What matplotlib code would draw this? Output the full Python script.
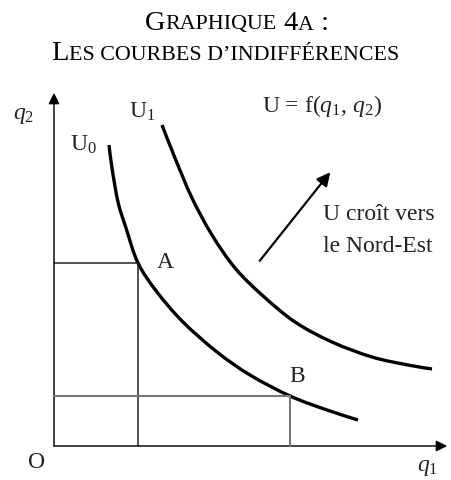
import matplotlib
matplotlib.use("Agg")
import matplotlib.pyplot as plt
from matplotlib.offsetbox import TextArea, HPacker, AnnotationBbox
from matplotlib.path import Path
from matplotlib.patches import PathPatch

plt.rcParams['font.family'] = ['Liberation Serif', 'DejaVu Serif']
plt.rcParams['mathtext.fontset'] = 'custom'
plt.rcParams['mathtext.rm'] = 'Liberation Serif'
plt.rcParams['mathtext.it'] = 'Liberation Serif:italic'

# ---- data ----
U0_q1 = [5.5, 5.8, 6.4, 7.2, 8.4, 10.3, 12.9, 16.3, 19.6, 23.6, 27.3, 30.4]
U0_q2 = [30.1, 27.8, 24.4, 21.8, 18.3, 15.4, 12.4, 9.4, 7.1, 5.0, 3.6, 2.6]
U1_q1 = [10.8, 12.1, 13.8, 15.8, 18.1, 20.8, 24.1, 27.8, 31.8, 35.4, 37.8]
U1_q2 = [32.1, 28.8, 24.8, 21.1, 17.8, 15.1, 12.4, 10.4, 8.9, 8.1, 7.7]
point_A = (8.4, 18.3)
point_B = (23.6, 5.0)
axis_end = (39.6, 35.6)
arrow_tail = (20.4, 18.3)
arrow_head = (27.8, 27.6)

fig = plt.figure(figsize=(4.51, 4.80), dpi=100)
ax = fig.add_axes([0, 0, 1, 1])
ax.set_xlim(-5.4, 39.7)
ax.set_ylim(-3.4, 44.6)
ax.axis('off')


def smooth_path(xs, ys):
    """Cubic Bezier path passing through every read point (Catmull-Rom tangents)."""
    pts = list(zip(xs, ys))
    n = len(pts)
    verts = [pts[0]]
    codes = [Path.MOVETO]
    for i in range(n - 1):
        p0 = pts[i - 1] if i > 0 else pts[i]
        p1 = pts[i]
        p2 = pts[i + 1]
        p3 = pts[i + 2] if i + 2 < n else pts[i + 1]
        c1 = (p1[0] + (p2[0] - p0[0]) / 6, p1[1] + (p2[1] - p0[1]) / 6)
        c2 = (p2[0] - (p3[0] - p1[0]) / 6, p2[1] - (p3[1] - p1[1]) / 6)
        verts += [c1, c2, p2]
        codes += [Path.CURVE4] * 3
    return Path(verts, codes)


# axes with arrows
ax.plot([0, axis_end[0] - 0.8], [0, 0], color='#333333', lw=1.3)
ax.plot([0, 0], [0, axis_end[1] - 0.8], color='#333333', lw=1.3)
ax.annotate('', xy=(axis_end[0], 0), xytext=(axis_end[0] - 1.5, 0),
            arrowprops=dict(arrowstyle='-|>', color='black', lw=1.2, mutation_scale=16))
ax.annotate('', xy=(0, axis_end[1]), xytext=(0, axis_end[1] - 1.5),
            arrowprops=dict(arrowstyle='-|>', color='black', lw=1.2, mutation_scale=16))

# guide lines for A and B
ax.plot([0, point_A[0], point_A[0]], [point_A[1], point_A[1], 0], color='#222222', lw=1.1)
ax.plot([0, point_B[0], point_B[0]], [point_B[1], point_B[1], 0], color='#777777', lw=1.5)

# indifference curves
for xs, ys in [(U0_q1, U0_q2), (U1_q1, U1_q2)]:
    ax.add_patch(PathPatch(smooth_path(xs, ys), facecolor='none', edgecolor='black',
                           lw=2.4, capstyle='butt', joinstyle='round'))

# north-east arrow
ax.annotate('', xy=arrow_head, xytext=arrow_tail,
            arrowprops=dict(arrowstyle='-|>', color='black', lw=1.6, mutation_scale=20))

fs = 17
tc = '#222222'
ax.text(-3.0, 33.1, r'$q_2$', fontsize=fs, ha='center', va='center', color=tc)
ax.text(2.9, 30.1, r'U$_0$', fontsize=fs, ha='center', va='center', color=tc)
ax.text(8.8, 33.4, r'U$_1$', fontsize=fs, ha='center', va='center', color=tc)
ax.text(20.8, 34.0, r'U = f($q_1$, $q_2$)', fontsize=fs, ha='left', va='center', color=tc)
ax.text(26.9, 23.1, 'U croît vers', fontsize=fs, ha='left', va='center', color=tc)
ax.text(26.9, 20.0, 'le Nord-Est', fontsize=fs, ha='left', va='center', color=tc)
ax.text(11.1, 18.3, 'A', fontsize=fs, ha='center', va='center', color=tc)
ax.text(24.3, 7.0, 'B', fontsize=fs, ha='center', va='center', color=tc)
ax.text(-1.7, -1.6, 'O', fontsize=fs, ha='center', va='center', color=tc)
ax.text(37.4, -2.1, r'$q_1$', fontsize=fs, ha='center', va='center', color=tc)

# small-caps title
big, small = 20.5, 15.8
def sc_line(parts):
    boxes = [TextArea(t, textprops=dict(fontsize=(big if b else small), color='black'))
             for t, b in parts]
    return HPacker(children=boxes, align='baseline', pad=0, sep=0)

line1 = sc_line([('G', True), ('RAPHIQUE', False), (' 4', True), ('A', False), (' :', True)])
line2 = sc_line([('L', True), ('ES COURBES D’INDIFFÉRENCES', False)])
for box, xf, yf in [(line1, 0.525, 1 - 23 / 480), (line2, 0.5, 1 - 53 / 480)]:
    ab = AnnotationBbox(box, (xf, yf), xycoords='figure fraction',
                        box_alignment=(0.5, 0.5), frameon=False, pad=0)
    fig.add_artist(ab)

fig.savefig('out.png', dpi=100)
